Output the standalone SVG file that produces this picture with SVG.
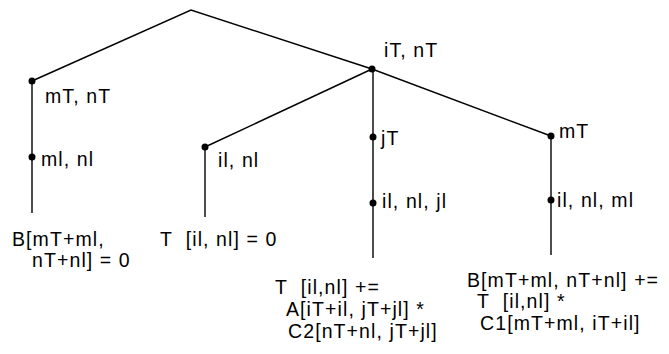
<svg xmlns="http://www.w3.org/2000/svg" width="669" height="354" viewBox="0 0 669 354">
<style>
text{font-family:"Liberation Sans",Arial,sans-serif;font-size:19.5px;fill:#000;white-space:pre;letter-spacing:1.1px}
.e{stroke:#000;stroke-width:1.4;fill:none}
.d{fill:#000}
</style>
<rect width="669" height="354" fill="#fff"/>
<g id="connectors">
<path class="e" d="M32 81 L191 10 L372 69"/>
<path class="e" d="M372 69 L205 147"/>
<path class="e" d="M372 69 L551 136"/>
<path class="e" d="M32 81 V213"/>
<path class="e" d="M205 147 V217"/>
<path class="e" d="M373 69 V258"/>
<path class="e" d="M551 136 V255"/>
</g>
<g id="n_mTnT"><circle class="d" cx="32" cy="81" r="3.5"/><text x="45" y="103">mT, nT</text></g>
<g id="n_mlnl"><circle class="d" cx="32" cy="157" r="3.5"/><text x="41" y="166">ml, nl</text></g>
<g id="n_Bzero"><text x="12" y="246">B[mT+ml,</text><text x="32" y="267">nT+nl] = 0</text></g>
<g id="n_iTnT"><circle class="d" cx="372" cy="69" r="3.5"/><text x="384" y="57">iT, nT</text></g>
<g id="n_ilnl"><circle class="d" cx="205" cy="147" r="3.5"/><text x="218" y="167">il, nl</text></g>
<g id="n_Tzero"><text x="160" y="246">T  [il, nl] = 0</text></g>
<g id="n_jT"><circle class="d" cx="373" cy="137" r="3.5"/><text x="381" y="145">jT</text></g>
<g id="n_ilnljl"><circle class="d" cx="373" cy="203" r="3.5"/><text x="382" y="208">il, nl, jl</text></g>
<g id="n_Tplus"><text x="275" y="294">T  [il,nl] +=</text><text x="286" y="316">A[iT+il, jT+jl] *</text><text x="288" y="338">C2[nT+nl, jT+jl]</text></g>
<g id="n_mT"><circle class="d" cx="551" cy="136" r="3.5"/><text x="559" y="138">mT</text></g>
<g id="n_ilnlml"><circle class="d" cx="551" cy="200" r="3.5"/><text x="557" y="207">il, nl, ml</text></g>
<g id="n_Bplus"><text x="467" y="287">B[mT+ml, nT+nl] +=</text><text x="477" y="308">T  [il,nl] *</text><text x="480" y="330">C1[mT+ml, iT+il]</text></g>
</svg>
